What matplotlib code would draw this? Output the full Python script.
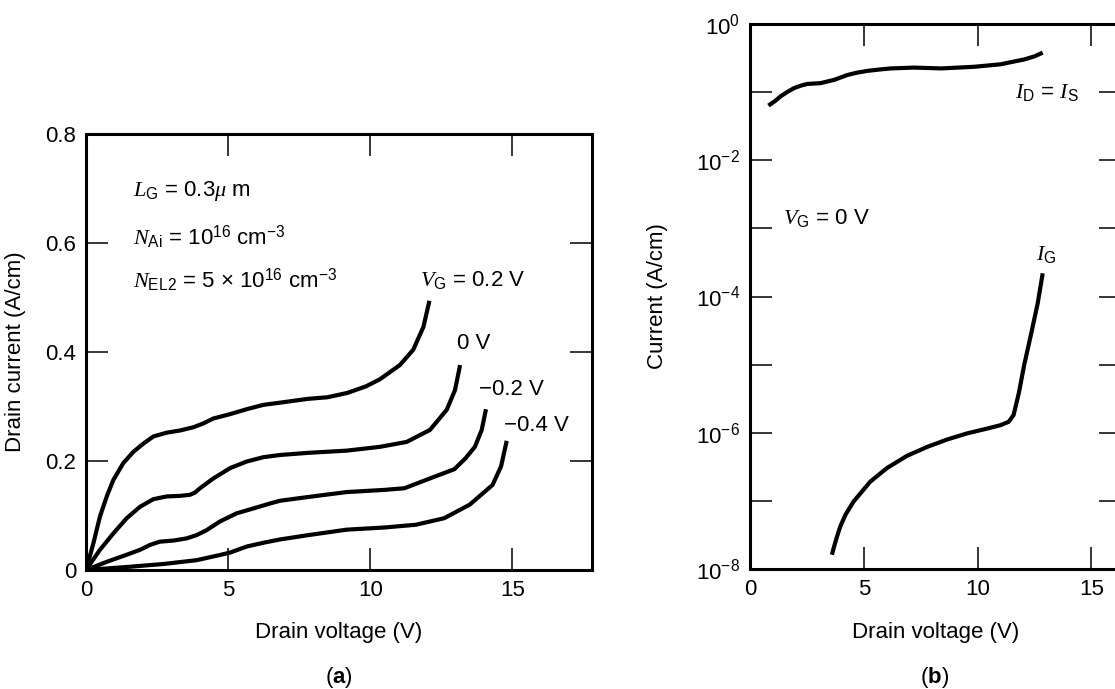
import matplotlib
matplotlib.use('Agg')
import matplotlib.pyplot as plt
from matplotlib.ticker import FixedLocator, NullLocator

plt.rcParams['font.family'] = ['Liberation Sans', 'DejaVu Sans']
plt.rcParams['mathtext.fontset'] = 'custom'
plt.rcParams['mathtext.rm'] = 'Liberation Sans'
plt.rcParams['mathtext.sf'] = 'Liberation Sans'
plt.rcParams['mathtext.it'] = 'Liberation Serif:italic'
plt.rcParams['mathtext.bf'] = 'Liberation Sans:bold'

# ---------------- Panel (a): drain current vs drain voltage ----------------
vd_p02 = [0, 0.26, 0.49, 0.73, 0.96, 1.31, 1.67, 2.02, 2.37, 2.84, 3.31, 3.78, 4.13, 4.48,
          5.07, 5.65, 6.24, 6.82, 7.8, 8.5, 9.2, 9.85, 10.34, 11.04, 11.51, 11.87, 12.08]
id_p02 = [0, 0.049, 0.098, 0.135, 0.165, 0.196, 0.217, 0.232, 0.245, 0.252, 0.256, 0.262,
          0.269, 0.278, 0.286, 0.295, 0.303, 0.307, 0.314, 0.317, 0.325, 0.337, 0.35, 0.376,
          0.404, 0.446, 0.494]

vd_0 = [0, 0.49, 0.96, 1.43, 1.90, 2.37, 2.84, 3.31, 3.66, 3.83, 4.01, 4.48, 5.07, 5.65,
        6.24, 6.82, 7.82, 9.17, 10.34, 11.28, 12.1, 12.69, 12.98, 13.16]
id_0 = [0, 0.037, 0.067, 0.095, 0.116, 0.130, 0.135, 0.136, 0.138, 0.142, 0.150, 0.168,
        0.187, 0.199, 0.207, 0.211, 0.215, 0.219, 0.226, 0.235, 0.257, 0.294, 0.330, 0.376]

vd_m02 = [0, 0.73, 1.43, 1.90, 2.25, 2.60, 3.07, 3.54, 3.89, 4.24, 4.71, 5.30, 5.89, 6.47,
          6.82, 7.82, 9.17, 10.5, 11.2, 12.15, 12.96, 13.35, 13.68, 13.92, 14.07]
id_m02 = [0, 0.015, 0.028, 0.037, 0.046, 0.052, 0.054, 0.058, 0.064, 0.073, 0.089, 0.104,
          0.113, 0.122, 0.127, 0.134, 0.143, 0.147, 0.15, 0.169, 0.185, 0.205, 0.226, 0.257,
          0.295]

vd_m04 = [0, 1.55, 2.72, 3.89, 4.71, 5.07, 5.65, 6.24, 6.82, 7.82, 9.17, 10.5, 11.6, 12.6,
          13.5, 14.3, 14.6, 14.8]
id_m04 = [0, 0.006, 0.011, 0.018, 0.0275, 0.032, 0.043, 0.050, 0.056, 0.064, 0.074, 0.078,
          0.083, 0.095, 0.12, 0.156, 0.19, 0.237]

xticks_a = [0, 5, 10, 15]
yticks_a = [0, 0.2, 0.4, 0.6, 0.8]
yticklabels_a = ['0', '0.2', '0.4', '0.6', '0.8']

# ---------------- Panel (b): currents (log) at VG = 0 V ----------------
vd_is = [0.81, 1.1, 1.35, 1.65, 1.94, 2.25, 2.52, 3.1, 3.7, 4.28, 4.7, 5.16, 5.7, 6.19, 7.2,
         8.4, 9.85, 11.0, 12.05, 12.5, 12.86]
i_ds = [0.0635, 0.074, 0.0871, 0.101, 0.1148, 0.125, 0.1318, 0.1355, 0.1514, 0.1786, 0.193,
        0.2051, 0.215, 0.2228, 0.2291, 0.2228, 0.2355, 0.2559, 0.302, 0.335, 0.380]

vd_ig = [3.60, 3.67, 3.80, 3.96, 4.20, 4.55, 5.28, 6.01, 6.89, 7.77, 8.65, 9.53, 10.41, 11.0,
         11.37, 11.58, 11.81, 12.05, 12.35, 12.64, 12.86]
i_g = [1.62e-8, 2.0e-8, 2.82e-8, 4.17e-8, 6.3e-8, 9.77e-8, 1.91e-7, 3.02e-7, 4.57e-7,
       6.17e-7, 7.94e-7, 9.77e-7, 1.15e-6, 1.29e-6, 1.45e-6, 1.82e-6, 3.80e-6, 1.0e-5,
       2.82e-5, 7.94e-5, 2.19e-4]

xticks_b = [0, 5, 10, 15]
yticks_b = [1e0, 1e-1, 1e-2, 1e-3, 1e-4, 1e-5, 1e-6, 1e-7, 1e-8]
yticklabels_b = [r'$\mathdefault{10^{0}}$', '', r'$\mathdefault{10^{-2}}$', '',
                 r'$\mathdefault{10^{-4}}$', '', r'$\mathdefault{10^{-6}}$', '',
                 r'$\mathdefault{10^{-8}}$']

W, H = 1115, 689
fig = plt.figure(figsize=(W / 100, H / 100), dpi=100)

def box(l, t, r, b):
    return [l / W, 1 - b / H, (r - l) / W, (b - t) / H]

LW = 3.0
FS = 16

# ---- (a)
ax = fig.add_axes(box(86, 134, 592, 570))
for xs, ys in [(vd_p02, id_p02), (vd_0, id_0), (vd_m02, id_m02), (vd_m04, id_m04)]:
    ax.plot(xs, ys, color='black', lw=LW, solid_capstyle='butt', solid_joinstyle='round')
ax.set_xlim(0, 17.8)
ax.set_ylim(0, 0.8)
ax.set_xticks(xticks_a)
ax.set_xticklabels([str(v) for v in xticks_a])
ax.set_yticks(yticks_a)
ax.set_yticklabels(yticklabels_a)
ax.tick_params(direction='in', length=16, width=1.1, top=True, right=True,
               labelsize=FS, pad=7)
for s in ax.spines.values():
    s.set_linewidth(2.2)
ax.set_xlabel('Drain voltage (V)', fontsize=FS)
ax.set_ylabel('Drain current (A/cm)', fontsize=FS)
ax.xaxis.set_label_coords(0.5, -0.119)
ax.yaxis.set_label_coords(-0.118, 0.5)

ax.text(1.65, 0.695, r'$L_\mathrm{G}$ = 0.3$\mu$ m', fontsize=FS, va='center', ha='left')
ax.text(1.65, 0.611, r'$N_\mathrm{Ai}$ = 10$^{16}$ cm$^{-3}$', fontsize=FS, va='center', ha='left')
ax.text(1.65, 0.532, r'$N_\mathrm{EL2}$ = 5 × 10$^{16}$ cm$^{-3}$', fontsize=FS, va='center', ha='left')
ax.text(11.75, 0.533, r'$V_\mathrm{G}$ = 0.2 V', fontsize=FS, va='center', ha='left')
ax.text(13.04, 0.416, '0 V', fontsize=FS, va='center', ha='left')
ax.text(13.84, 0.331, '\u22120.2 V', fontsize=FS, va='center', ha='left')
ax.text(14.70, 0.266, '\u22120.4 V', fontsize=FS, va='center', ha='left')

# ---- (b)
bx = fig.add_axes(box(750, 24, 1121, 569))
bx.semilogy(vd_is, i_ds, color='black', lw=LW, solid_capstyle='butt', solid_joinstyle='round')
bx.semilogy(vd_ig, i_g, color='black', lw=LW, solid_capstyle='butt', solid_joinstyle='round')
bx.set_xlim(0, 16.3)
bx.set_ylim(1e-8, 1e0)
bx.set_xticks(xticks_b)
bx.set_xticklabels([str(v) for v in xticks_b])
bx.yaxis.set_major_locator(FixedLocator(yticks_b))
bx.yaxis.set_minor_locator(NullLocator())
bx.set_yticklabels(yticklabels_b)
bx.tick_params(direction='in', length=16, width=1.1, top=True, right=True,
               labelsize=FS, pad=7)
for s in bx.spines.values():
    s.set_linewidth(2.2)
bx.set_xlabel('Drain voltage (V)', fontsize=FS)
bx.set_ylabel('Current (A/cm)', fontsize=FS)
bx.xaxis.set_label_coords(0.5, -0.097)
bx.yaxis.set_label_coords(-0.22, 0.5)

bx.text(11.66, 0.1, r'$I_\mathrm{D}$ = $I_\mathrm{S}$', fontsize=FS, va='center', ha='left')
bx.text(1.46, 1.4e-3, r'$V_\mathrm{G}$ = 0 V', fontsize=FS, va='center', ha='left')
bx.text(12.57, 4.1e-4, r'$I_\mathrm{G}$', fontsize=FS, va='center', ha='left')

fig.text(339 / W, 1 - 677 / H, r'($\mathbf{a}$)', fontsize=FS, ha='center', va='center')
fig.text(935 / W, 1 - 677 / H, r'($\mathbf{b}$)', fontsize=FS, ha='center', va='center')

fig.savefig('out.png', dpi=100)
